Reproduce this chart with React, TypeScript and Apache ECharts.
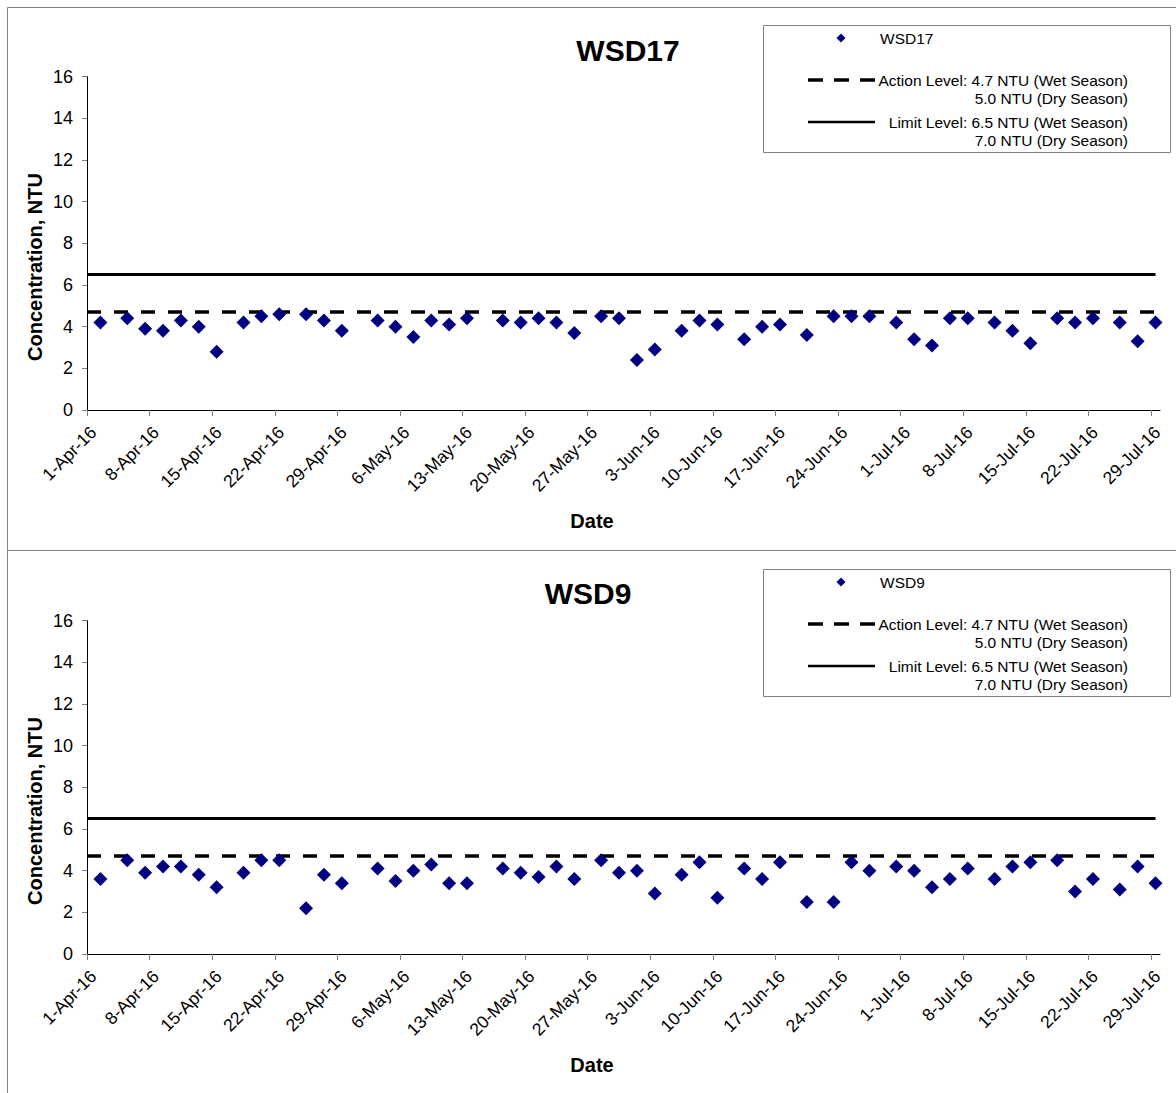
import React, { useEffect, useRef } from 'react';
import * as echarts from 'echarts';

const MONTHS = ['Jan', 'Feb', 'Mar', 'Apr', 'May', 'Jun', 'Jul', 'Aug', 'Sep', 'Oct', 'Nov', 'Dec'];
const YEAR = 2016;
const AXIS_START = '1-Apr';
const AXIS_END = '30-Jul';

const tickLabels = [
  '1-Apr-16', '8-Apr-16', '15-Apr-16', '22-Apr-16', '29-Apr-16', '6-May-16', '13-May-16',
  '20-May-16', '27-May-16', '3-Jun-16', '10-Jun-16', '17-Jun-16', '24-Jun-16', '1-Jul-16',
  '8-Jul-16', '15-Jul-16', '22-Jul-16', '29-Jul-16',
];

const sampleDates = [
  '2-Apr', '5-Apr', '7-Apr', '9-Apr', '11-Apr', '13-Apr', '15-Apr', '18-Apr', '20-Apr', '22-Apr', '25-Apr', '27-Apr', '29-Apr',
  '3-May', '5-May', '7-May', '9-May', '11-May', '13-May', '17-May', '19-May', '21-May', '23-May', '25-May', '28-May', '30-May',
  '1-Jun', '3-Jun', '6-Jun', '8-Jun', '10-Jun', '13-Jun', '15-Jun', '17-Jun', '20-Jun', '23-Jun', '25-Jun', '27-Jun', '30-Jun',
  '2-Jul', '4-Jul', '6-Jul', '8-Jul', '11-Jul', '13-Jul', '15-Jul', '18-Jul', '20-Jul', '22-Jul', '25-Jul', '27-Jul', '29-Jul',
];

const wsd17 = [
  4.2, 4.4, 3.9, 3.8, 4.3, 4.0, 2.8, 4.2, 4.5, 4.6, 4.6, 4.3, 3.8,
  4.3, 4.0, 3.5, 4.3, 4.1, 4.4, 4.3, 4.2, 4.4, 4.2, 3.7, 4.5, 4.4,
  2.4, 2.9, 3.8, 4.3, 4.1, 3.4, 4.0, 4.1, 3.6, 4.5, 4.5, 4.5, 4.2,
  3.4, 3.1, 4.4, 4.4, 4.2, 3.8, 3.2, 4.4, 4.2, 4.4, 4.2, 3.3, 4.2,
];

const wsd9 = [
  3.6, 4.5, 3.9, 4.2, 4.2, 3.8, 3.2, 3.9, 4.5, 4.5, 2.2, 3.8, 3.4,
  4.1, 3.5, 4.0, 4.3, 3.4, 3.4, 4.1, 3.9, 3.7, 4.2, 3.6, 4.5, 3.9,
  4.0, 2.9, 3.8, 4.4, 2.7, 4.1, 3.6, 4.4, 2.5, 2.5, 4.4, 4.0, 4.2,
  4.0, 3.2, 3.6, 4.1, 3.6, 4.2, 4.4, 4.5, 3.0, 3.6, 3.1, 4.2, 3.4,
];

const actionLevel = 4.7;
const limitLevel = 6.5;
const yMin = 0;
const yMax = 16;
const yStep = 2;

const panelTitles = ['WSD17', 'WSD9'];
const panelSeries = [wsd17, wsd9];
const legendAction = ['Action Level: 4.7 NTU (Wet Season)', '5.0 NTU (Dry Season)'];
const legendLimit = ['Limit Level: 6.5 NTU (Wet Season)', '7.0 NTU (Dry Season)'];
const yAxisTitle = 'Concentration, NTU';
const xAxisTitle = 'Date';

// Excel date axis centres each day's point between tick marks
const DAY_CENTRE = 0.5;

function dayIndex(label: string): number {
  const [d, m] = label.split('-');
  const base = Date.UTC(YEAR, MONTHS.indexOf(AXIS_START.split('-')[1]), Number(AXIS_START.split('-')[0]));
  const t = Date.UTC(YEAR, MONTHS.indexOf(m), Number(d));
  return Math.round((t - base) / 86400000);
}

const FONT = '"Liberation Sans", Arial, Helvetica, sans-serif';
const NAVY = '#000080';

export default function App() {
  const ref = useRef<HTMLDivElement>(null);

  useEffect(() => {
    if (!ref.current) return;
    const chart = echarts.init(ref.current, undefined, { renderer: 'svg' });

    const tickDays = tickLabels.map((l) => dayIndex(l.slice(0, l.lastIndexOf('-'))));
    const xMax = dayIndex(AXIS_END);
    const lastDay = dayIndex(sampleDates[sampleDates.length - 1]) + DAY_CENTRE;

    const PANEL_OFFSET = 544;
    const grids: any[] = [];
    const xAxes: any[] = [];
    const yAxes: any[] = [];
    const series: any[] = [];
    const graphics: any[] = [];

    panelSeries.forEach((vals, p) => {
      const oy = p * PANEL_OFFSET;
      grids.push({ left: 87, top: 76.7 + oy, width: 1073, height: 333.3, containLabel: false });
      xAxes.push({
        type: 'value',
        gridIndex: p,
        min: 0,
        max: xMax,
        axisLine: { show: true, onZero: false, lineStyle: { color: '#000', width: 1 } },
        axisTick: { show: true, length: 6, customValues: tickDays, lineStyle: { color: '#808080' } },
        axisLabel: {
          customValues: tickDays,
          rotate: 45,
          margin: 13,
          verticalAlign: 'top',
          fontSize: 17.5,
          color: '#000',
          fontFamily: FONT,
          formatter: (v: number) => {
            const i = tickDays.indexOf(Math.round(v));
            return i >= 0 ? tickLabels[i] : '';
          },
        },
        splitLine: { show: false },
      });
      yAxes.push({
        type: 'value',
        gridIndex: p,
        min: yMin,
        max: yMax,
        interval: yStep,
        axisLine: { show: true, lineStyle: { color: '#000', width: 1 } },
        axisTick: { show: true, length: 5, lineStyle: { color: '#808080' } },
        axisLabel: { margin: 14, fontSize: 18, color: '#000', fontFamily: FONT },
        splitLine: { show: false },
      });
      series.push({
        type: 'line',
        xAxisIndex: p,
        yAxisIndex: p,
        data: [[0, limitLevel], [lastDay, limitLevel]],
        symbol: 'none',
        silent: true,
        lineStyle: { color: '#000', width: 3, type: 'solid' },
        z: 2,
      });
      series.push({
        type: 'line',
        xAxisIndex: p,
        yAxisIndex: p,
        data: [[0, actionLevel], [lastDay, actionLevel]],
        symbol: 'none',
        silent: true,
        lineStyle: { color: '#000', width: 3.5, type: [14, 13], cap: 'butt' },
        z: 2,
      });
      series.push({
        type: 'scatter',
        name: panelTitles[p],
        xAxisIndex: p,
        yAxisIndex: p,
        symbol: 'diamond',
        symbolSize: 14,
        itemStyle: { color: NAVY, opacity: 1 },
        data: sampleDates.map((d, i) => [dayIndex(d) + DAY_CENTRE, vals[i]]),
        z: 3,
      });

      // panel frame
      graphics.push({
        type: 'rect',
        shape: { x: 7.5, y: 7.5 + p * 543, width: 1190, height: p === 0 ? 543 : 600 },
        style: { fill: 'none', stroke: '#808080', lineWidth: 1 },
        silent: true,
        z: 0,
      });
      // title
      graphics.push({
        type: 'text',
        x: p === 0 ? 628 : 588,
        y: 50 + oy - (p === 0 ? 0 : 1),
        style: {
          text: panelTitles[p],
          font: `bold 30px ${FONT}`,
          fill: '#000',
          textAlign: 'center',
          textVerticalAlign: 'middle',
        },
      });
      // axis titles
      graphics.push({
        type: 'text',
        x: 35,
        y: 267 + oy,
        rotation: Math.PI / 2,
        style: {
          text: yAxisTitle,
          font: `bold 20px ${FONT}`,
          fill: '#000',
          textAlign: 'center',
          textVerticalAlign: 'middle',
        },
      });
      graphics.push({
        type: 'text',
        x: 592,
        y: 521 + oy,
        style: {
          text: xAxisTitle,
          font: `bold 20px ${FONT}`,
          fill: '#000',
          textAlign: 'center',
          textVerticalAlign: 'middle',
        },
      });
      // legend box
      graphics.push({
        type: 'rect',
        shape: { x: 763.5, y: 25.5 + oy, width: 407, height: 127 },
        style: { fill: '#fff', stroke: '#808080', lineWidth: 1 },
        z: 5,
      });
      graphics.push({
        type: 'polygon',
        shape: { points: [[841, 33.5 + oy], [845.5, 38 + oy], [841, 42.5 + oy], [836.5, 38 + oy]] },
        style: { fill: NAVY },
        z: 6,
      });
      graphics.push({
        type: 'text',
        x: 880,
        y: 38 + oy,
        style: { text: panelTitles[p], font: `15.5px ${FONT}`, fill: '#000', textAlign: 'left', textVerticalAlign: 'middle' },
        z: 6,
      });
      graphics.push({
        type: 'line',
        shape: { x1: 808, y1: 80 + oy, x2: 875, y2: 80 + oy },
        style: { stroke: '#000', lineWidth: 3.5, lineDash: [15, 11] },
        z: 6,
      });
      graphics.push({
        type: 'line',
        shape: { x1: 808, y1: 122 + oy, x2: 875, y2: 122 + oy },
        style: { stroke: '#000', lineWidth: 2.5 },
        z: 6,
      });
      const legendRows: [string, number][] = [
        [legendAction[0], 80],
        [legendAction[1], 98],
        [legendLimit[0], 122],
        [legendLimit[1], 140],
      ];
      legendRows.forEach(([t, y]) => {
        graphics.push({
          type: 'text',
          x: 1128,
          y: y + oy,
          style: { text: t, font: `15.5px ${FONT}`, fill: '#000', textAlign: 'right', textVerticalAlign: 'middle' },
          z: 6,
        });
      });
    });

    chart.setOption({
      animation: false,
      backgroundColor: '#fff',
      grid: grids,
      xAxis: xAxes,
      yAxis: yAxes,
      series,
      graphic: { elements: graphics },
    });

    return () => chart.dispose();
  }, []);

  return (
    <div
      ref={ref}
      style={{ position: 'absolute', left: 0, top: 0, width: 1176, height: 1093 }}
    />
  );
}
